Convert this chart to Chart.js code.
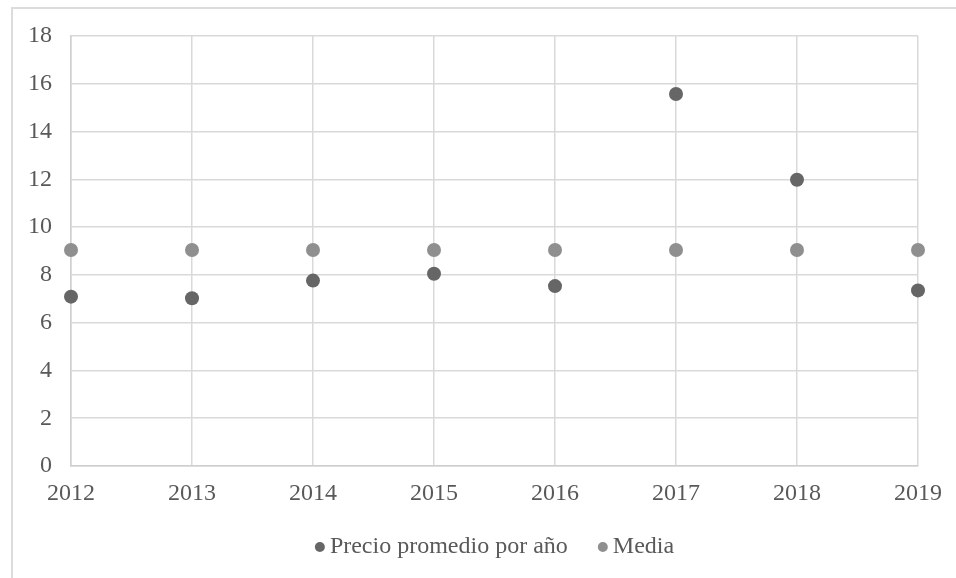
<!DOCTYPE html>
<html>
<head>
<meta charset="utf-8">
<script src="https://cdn.jsdelivr.net/npm/chart.js@4/dist/chart.umd.min.js"></script>
<style>
  html, body { margin: 0; padding: 0; background: #ffffff; }
  #wrap { position: relative; width: 956px; height: 578px; }
</style>
</head>
<body>
<div id="wrap"><canvas id="chart" width="956" height="578"></canvas></div>
<script>
// Average price per year and its overall mean
const years = [2012, 2013, 2014, 2015, 2016, 2017, 2018, 2019];
const precioPromedio = [7.09, 7.02, 7.76, 8.05, 7.53, 15.57, 11.98, 7.35];
const media = [9.04, 9.04, 9.04, 9.04, 9.04, 9.04, 9.04, 9.04];
const yTicks = [0, 2, 4, 6, 8, 10, 12, 14, 16, 18];

const serif = '"Liberation Serif", "Times New Roman", serif';
const textColor = '#595959';
const gridColor = '#d9d9d9';

// Light frame around the whole chart
const frame = {
  id: 'frame',
  beforeDraw(chart) {
    const ctx = chart.ctx;
    ctx.save();
    ctx.strokeStyle = '#dcdcdc';
    ctx.lineWidth = 2;
    ctx.strokeRect(12, 8, 1000, 1000);
    ctx.restore();
  }
};

// Legend row under the axis, centred on the plot area
const bottomLegend = {
  id: 'bottomLegend',
  afterDraw(chart) {
    const ctx = chart.ctx;
    const area = chart.chartArea;
    const r = 5, markerGap = 5, itemGap = 30;
    const y = 547;
    ctx.save();
    ctx.font = '24px ' + serif;
    ctx.textBaseline = 'middle';
    const items = chart.data.datasets.map(ds => ({
      text: ds.label,
      color: ds.backgroundColor,
      w: 2 * r + markerGap + ctx.measureText(ds.label).width
    }));
    const total = items.reduce((s, it) => s + it.w, 0) + itemGap * (items.length - 1);
    let x = (area.left + area.right) / 2 - total / 2;
    items.forEach(it => {
      ctx.fillStyle = it.color;
      ctx.beginPath();
      ctx.arc(x + r, y, r, 0, Math.PI * 2);
      ctx.fill();
      ctx.fillStyle = textColor;
      ctx.fillText(it.text, x + 2 * r + markerGap, y);
      x += it.w + itemGap;
    });
    ctx.restore();
  }
};

const toPoints = (ys) => years.map((yr, i) => ({ x: yr, y: ys[i] }));

new Chart(document.getElementById('chart'), {
  type: 'scatter',
  data: {
    datasets: [
      {
        label: 'Precio promedio por año',
        data: toPoints(precioPromedio),
        backgroundColor: '#666666',
        borderColor: '#666666',
        pointRadius: 7,
        pointHoverRadius: 7,
        borderWidth: 0,
        clip: false
      },
      {
        label: 'Media',
        data: toPoints(media),
        backgroundColor: '#8f8f8f',
        borderColor: '#8f8f8f',
        pointRadius: 7,
        pointHoverRadius: 7,
        borderWidth: 0,
        clip: false
      }
    ]
  },
  options: {
    responsive: false,
    animation: false,
    layout: { padding: { top: 36, right: 38, bottom: 52, left: 0 } },
    scales: {
      x: {
        type: 'linear',
        min: years[0],
        max: years[years.length - 1],
        afterBuildTicks(axis) { axis.ticks = years.map(v => ({ value: v })); },
        afterFit(axis) { axis.height = 60; },
        grid: { color: gridColor, lineWidth: 1.5, drawTicks: false },
        border: { color: '#cfcfcf', width: 1.5 },
        ticks: {
          padding: 13,
          color: textColor,
          font: { family: serif, size: 24 },
          maxRotation: 0,
          callback: (v) => String(v)
        }
      },
      y: {
        min: 0,
        max: 18,
        afterBuildTicks(axis) { axis.ticks = yTicks.map(v => ({ value: v })); },
        afterFit(axis) { axis.width = 71; },
        grid: { color: gridColor, lineWidth: 1.5, drawTicks: false },
        border: { color: '#cfcfcf', width: 1.5 },
        ticks: {
          padding: 19,
          color: textColor,
          font: { family: serif, size: 24 }
        }
      }
    },
    plugins: {
      legend: { display: false },
      tooltip: { enabled: false }
    }
  },
  plugins: [frame, bottomLegend]
});
</script>
</body>
</html>
